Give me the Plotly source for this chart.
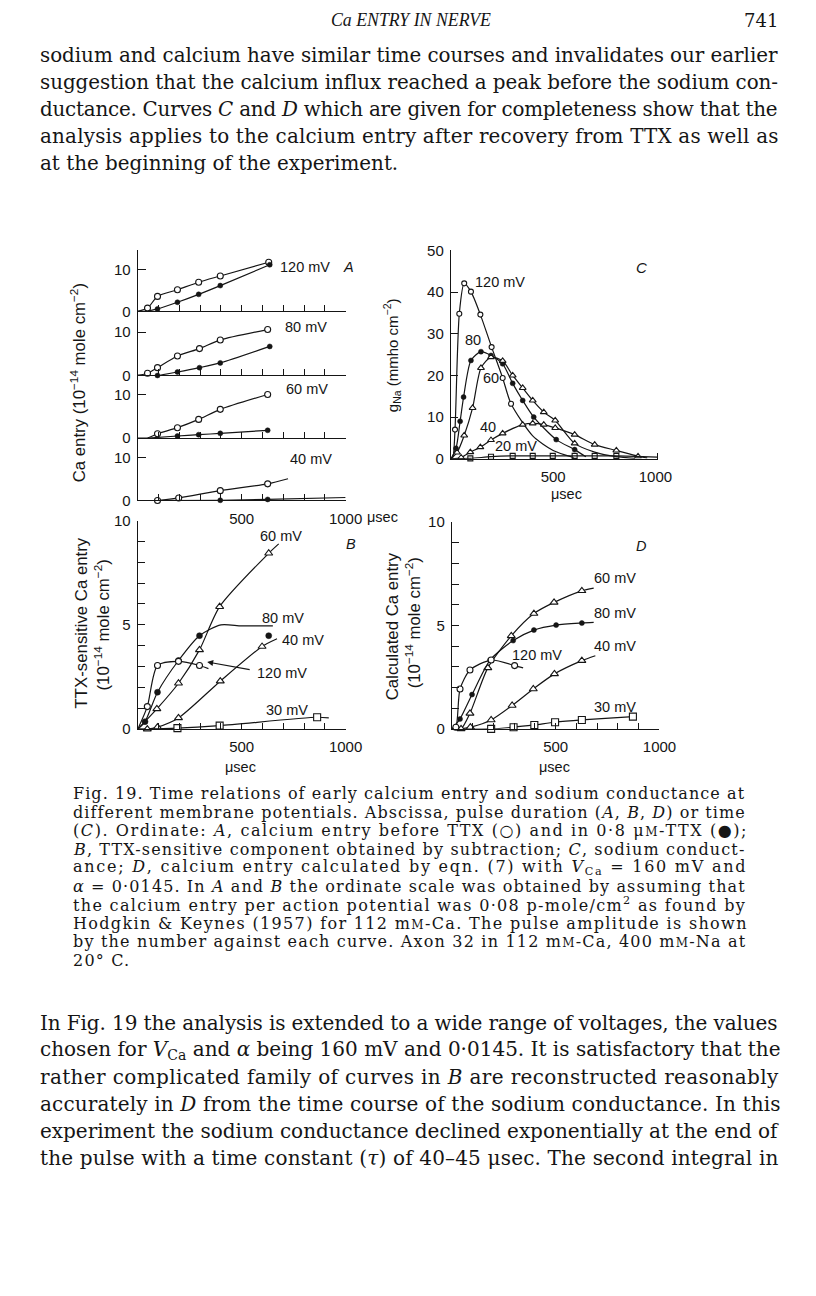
import plotly.graph_objects as go

# Page geometry: the page body has an 8 px margin; the captured picture is
# slightly rescaled, so positions are given in picture pixels and converted.
OFF = 8
FW, FH = 798, 1276
SX, OX = 0.976, 0.5
SY, OY = 0.9864, 8.75

# ---------------- data ----------------
# Panel A: Ca entry (10^-14 mole cm^-2) vs pulse duration (usec)
a120_o_x = [0, 47, 95, 191, 293, 397, 630]
a120_o_y = [0, 0.8, 3.6, 5.2, 7.0, 8.5, 11.8]
a120_o_m = [0, 1, 1, 1, 1, 1, 1]
a120_f_x = [0, 50, 95, 191, 293, 397, 635]
a120_f_y = [0, 0.1, 0.6, 2.2, 4.1, 6.2, 11.2]
a120_f_m = [0, 0, 1, 1, 1, 1, 1]

a80_o_x = [0, 47, 95, 191, 297, 397, 625]
a80_o_y = [0, 0.5, 1.8, 4.5, 6.2, 8.2, 10.6]
a80_o_m = [0, 1, 1, 1, 1, 1, 1]
a80_f_x = [0, 95, 191, 297, 397, 635]
a80_f_y = [0, 0.0, 0.8, 1.8, 2.9, 6.7]
a80_f_m = [0, 1, 1, 1, 1, 1]

a60_o_x = [0, 50, 95, 191, 293, 397, 625]
a60_o_y = [0, 0.1, 1.0, 2.4, 4.3, 6.6, 10.0]
a60_o_m = [0, 0, 1, 1, 1, 1, 1]
a60_f_x = [50, 191, 293, 397, 625]
a60_f_y = [0, 0.5, 0.8, 1.1, 1.8]
a60_f_m = [0, 1, 1, 1, 1]

a40_o_x = [0, 95, 197, 397, 625, 723]
a40_o_y = [0, 0.0, 0.6, 2.3, 3.9, 5.1]
a40_o_m = [0, 1, 1, 1, 1, 0]
a40_f_x = [100, 397, 625, 1000]
a40_f_y = [0, 0.05, 0.25, 0.7]
a40_f_m = [0, 1, 1, 0]

# Panel C: g_Na (mmho cm^-2) vs time (usec)
c120_x = [0, 10, 20, 41, 65, 98, 144, 199, 253, 294, 400, 500, 600]
c120_y = [0, 0.5, 7, 34.8, 42.1, 40.1, 34.6, 26.8, 19.4, 13.2, 5.5, 2.0, 0.3]
c120_m = [0, 0, 1, 1, 1, 1, 1, 1, 1, 1, 0, 0, 0]
c80_x = [0, 25, 45, 62, 98, 147, 196, 253, 302, 351, 405, 515, 605, 660]
c80_y = [0, 2.5, 9, 14.8, 23.6, 25.7, 24.8, 22.8, 18.1, 14, 10, 4.6, 2.2, 0.5]
c80_m = [0, 1, 1, 1, 1, 1, 1, 1, 1, 1, 1, 1, 1, 0]
c60_x = [0, 30, 65, 106, 147, 196, 253, 302, 351, 400, 454, 510, 605, 703, 809, 900]
c60_y = [0, 1.5, 5.6, 12.2, 21.8, 24.4, 23.5, 20, 17, 14, 11.2, 9.2, 3.7, 1.6, 0.5, 0.1]
c60_m = [0, 1, 1, 1, 1, 1, 1, 1, 1, 1, 1, 1, 1, 0, 0, 0]
c40_x = [0, 50, 95, 144, 196, 253, 351, 400, 454, 510, 605, 703, 809, 915, 960]
c40_y = [0, 0.3, 1.6, 2.8, 4.5, 6.1, 8.2, 8.5, 8.2, 7.4, 5.8, 3.4, 2.0, 0.6, 0.2]
c40_m = [0, 1, 1, 1, 1, 1, 1, 1, 1, 1, 1, 1, 1, 1, 0]
c20_x = [0, 95, 196, 302, 400, 498, 605, 703, 809, 1010]
c20_y = [0, 0.1, 0.5, 0.7, 0.7, 0.7, 0.7, 0.7, 0.7, 0.4]
c20_m = [0, 1, 1, 1, 1, 1, 1, 1, 1, 0]

# Panel B: TTX-sensitive Ca entry vs pulse duration
b120_x = [0, 46, 95, 196, 297, 340]
b120_y = [0, 1.08, 3.05, 3.25, 3.05, 2.9]
b120_m = [0, 1, 1, 1, 1, 0]
b80_x = [0, 35, 95, 196, 297, 400, 500, 650]
b80_y = [0, 0.36, 1.77, 3.29, 4.48, 5.0, 4.95, 4.95]
b80_m = [0, 1, 1, 1, 1, 0, 0, 0]
b80e_x = [630]
b80e_y = [4.48]
b60_x = [0, 92, 196, 297, 394, 630, 678]
b60_y = [0, 0.97, 2.2, 3.8, 5.87, 8.43, 8.88]
b60_m = [0, 1, 1, 1, 1, 1, 0]
b40_x = [0, 46, 95, 196, 397, 598, 670]
b40_y = [0, 0.0, 0.1, 0.54, 2.3, 3.96, 4.33]
b40_m = [0, 1, 1, 1, 1, 1, 0]
b30_x = [0, 191, 394, 863, 919]
b30_y = [0, 0.05, 0.17, 0.57, 0.54]
b30_m = [0, 1, 1, 1, 0]

# Panel D: calculated Ca entry vs pulse duration
d120_x = [0, 19, 39, 87, 189, 302, 343]
d120_y = [0, 0.08, 1.93, 2.85, 3.33, 3.06, 2.95]
d120_m = [0, 1, 1, 1, 1, 1, 0]
d80_x = [0, 39, 97, 184, 295, 395, 502, 626, 683]
d80_y = [0, 0.48, 1.66, 3.33, 4.27, 4.78, 5.02, 5.12, 5.15]
d80_m = [0, 1, 1, 1, 1, 1, 1, 1, 0]
d60_x = [0, 44, 87, 173, 286, 395, 492, 626, 683]
d60_y = [0, 0.0, 0.75, 2.95, 4.5, 5.58, 6.12, 6.68, 6.81]
d60_m = [0, 1, 1, 1, 1, 1, 1, 1, 0]
d40_x = [0, 44, 89, 189, 290, 392, 494, 626, 691]
d40_y = [0, 0.0, 0.08, 0.43, 1.13, 1.93, 2.66, 3.3, 3.54]
d40_m = [0, 0, 1, 1, 1, 1, 1, 1, 0]
d30_x = [0, 189, 297, 397, 497, 626, 872]
d30_y = [0, 0.0, 0.08, 0.19, 0.32, 0.43, 0.59]
d30_m = [0, 1, 1, 1, 1, 1, 1]

# tick values and labels
x_major = [500, 1000]
x_major_text = ["500", "1000"]
x_minor = [100, 200, 300, 400, 600, 700, 800, 900]
y_major_10 = [0, 5, 10]
y_minor_10 = [1, 2, 3, 4, 6, 7, 8, 9]
a_yticks = [0, 10]
c_yticks = [0, 10, 20, 30, 40, 50]

top_lines = [
    "sodium and calcium have similar time courses and invalidates our earlier",
    "suggestion that the calcium influx reached a peak before the sodium con-",
    "ductance. Curves <i>C</i> and <i>D</i> which are given for completeness show that the",
    "analysis applies to the calcium entry after recovery from TTX as well as",
    "at the beginning of the experiment.",
]
SC = "<span style='font-size:12px'>M</span>"
cap_lines = [
    "Fig. 19. Time relations of early calcium entry and sodium conductance at",
    "different membrane potentials. Abscissa, pulse duration (<i>A</i>, <i>B</i>, <i>D</i>) or time",
    "(<i>C</i>). Ordinate: <i>A</i>, calcium entry before TTX (\u25cb) and in 0\u00b78 \u03bc" + SC + "-TTX (\u25cf);",
    "<i>B</i>, TTX-sensitive component obtained by subtraction; <i>C</i>, sodium conduct-",
    "ance; <i>D</i>, calcium entry calculated by eqn. (7) with <i>V</i><sub>Ca</sub> = 160 mV and",
    "<i>\u03b1</i> = 0\u00b70145. In <i>A</i> and <i>B</i> the ordinate scale was obtained by assuming that",
    "the calcium entry per action potential was 0\u00b708 p-mole/cm<sup>2</sup> as found by",
    "Hodgkin &amp; Keynes (1957) for 112 m" + SC + "-Ca. The pulse amplitude is shown",
    "by the number against each curve. Axon 32 in 112 m" + SC + "-Ca, 400 m" + SC + "-Na at",
    "20\u00b0 C.",
]
bot_lines = [
    "In Fig. 19 the analysis is extended to a wide range of voltages, the values",
    "chosen for <i>V</i><sub>Ca</sub> and <i>\u03b1</i> being 160 mV and 0\u00b70145. It is satisfactory that the",
    "rather complicated family of curves in <i>B</i> are reconstructed reasonably",
    "accurately in <i>D</i> from the time course of the sodium conductance. In this",
    "experiment the sodium conductance declined exponentially at the end of",
    "the pulse with a time constant (<i>\u03c4</i>) of 40\u201345 \u03bcsec. The second integral in",
]
# letter spacing per line (px) used to justify the lines like the printed page
top_ls = [-0.04, -0.07, -0.23, 0.2, 0]
cap_ls = [1.07, 1.08, 1.58, 1.14, 1.74, 1.11, 1.33, 1.34, 1.19, 1.2]
bot_ls = [-0.11, 0, 0.36, 0.14, -0.03, 0.17]

# ---------------- figure ----------------
fig = go.Figure()
SANS = "Liberation Sans"
SERIF = "DejaVu Serif"
INK = "#151515"


def fx(p):
    return ((p - OX) / SX - OFF) / FW


def fy(p):
    return 1 - ((p - OY) / SY - OFF) / FH


STY = {
    "open": dict(symbol="circle", color="white", line=dict(color=INK, width=1.1)),
    "fill": dict(symbol="circle", color=INK, line=dict(color=INK, width=0.5)),
    "tri": dict(symbol="triangle-up", color="white", line=dict(color=INK, width=1.1)),
    "sq": dict(symbol="square", color="white", line=dict(color=INK, width=1.1)),
    "sqo": dict(symbol="square-open", color=INK, line=dict(color=INK, width=1.1)),
}


def series(ax, x, y, m, kind, size, lw=1.2):
    mk = dict(STY[kind])
    mk["size"] = size
    mk["opacity"] = [1 if v else 0 for v in m]
    fig.add_trace(go.Scatter(
        x=x, y=y, xaxis="x" + ax, yaxis="y" + ax, mode="lines+markers",
        line=dict(color=INK, width=lw, shape="spline", smoothing=0.7),
        marker=mk, cliponaxis=False, showlegend=False, hoverinfo="skip"))


# Panel A (axes '', 2, 3, 4)
series("", a120_o_x, a120_o_y, a120_o_m, "open", 6)
series("", a120_f_x, a120_f_y, a120_f_m, "fill", 5)
series("2", a80_o_x, a80_o_y, a80_o_m, "open", 6)
series("2", a80_f_x, a80_f_y, a80_f_m, "fill", 5)
series("3", a60_o_x, a60_o_y, a60_o_m, "open", 6)
series("3", a60_f_x, a60_f_y, a60_f_m, "fill", 5)
series("4", a40_o_x, a40_o_y, a40_o_m, "open", 6)
series("4", a40_f_x, a40_f_y, a40_f_m, "fill", 5)
# Panel C (axis 5)
series("5", c120_x, c120_y, c120_m, "open", 5)
series("5", c80_x, c80_y, c80_m, "fill", 5)
series("5", c60_x, c60_y, c60_m, "tri", 6)
series("5", c40_x, c40_y, c40_m, "tri", 6)
series("5", c20_x, c20_y, c20_m, "sqo", 5)
# Panel B (axis 6)
series("6", b30_x, b30_y, b30_m, "sq", 7)
series("6", b40_x, b40_y, b40_m, "tri", 7)
series("6", b60_x, b60_y, b60_m, "tri", 7)
series("6", b80_x, b80_y, b80_m, "fill", 6)
series("6", b120_x, b120_y, b120_m, "open", 6)
fig.add_trace(go.Scatter(x=b80e_x, y=b80e_y, xaxis="x6", yaxis="y6", mode="markers",
                         marker=dict(STY["fill"], size=6), cliponaxis=False,
                         showlegend=False, hoverinfo="skip"))
# Panel D (axis 7)
series("7", d30_x, d30_y, d30_m, "sq", 7)
series("7", d40_x, d40_y, d40_m, "tri", 7)
series("7", d60_x, d60_y, d60_m, "tri", 7)
series("7", d80_x, d80_y, d80_m, "fill", 5)
series("7", d120_x, d120_y, d120_m, "open", 6)

AX = dict(showline=True, linecolor=INK, linewidth=1.3, showgrid=False, zeroline=False,
          ticks="inside", tickcolor=INK, tickwidth=1.3, ticklen=6,
          tickfont=dict(family=SANS, size=15, color=INK), fixedrange=True)


def minor(vals, ln):
    return dict(tickmode="array", tickvals=vals, ticks="inside", ticklen=ln,
                tickcolor=INK, tickwidth=1.3, showgrid=False)


def xaxis(name, anchor, x0, x1, rng, tv, tt, labels, mvals, ticks="inside"):
    d = dict(AX)
    d.update(domain=[fx(x0), fx(x1)], range=rng, anchor=anchor, tickmode="array",
             tickvals=tv, ticktext=tt, showticklabels=labels, ticks=ticks,
             ticklabelstandoff=4, minor=minor(mvals, 6))
    fig.update_layout(**{name: d})


def yaxis(name, anchor, ytop, ybot, rng, tv, mvals, ticklen=7):
    d = dict(AX)
    d.update(domain=[fy(ybot), fy(ytop)], range=rng, anchor=anchor, tickmode="array",
             tickvals=tv, ticktext=[str(v) for v in tv], ticklen=ticklen,
             ticklabelstandoff=3, minor=minor(mvals, ticklen))
    fig.update_layout(**{name: d})


# A
A_X0, A_X1 = 137.7, 345
a_rows = [(250, 311, 14.63), (311, 375, 14.78), (375, 437.7, 14.35), (437.7, 500, 14.59)]
for i, (yt, yb, top) in enumerate(a_rows):
    sfx = "" if i == 0 else str(i + 1)
    xaxis("xaxis" + sfx, "y" + sfx, A_X0, A_X1, [0, 1000], x_major, x_major_text, i == 3,
          x_minor)
    yaxis("yaxis" + sfx, "x" + sfx, yt, yb, [0, top], a_yticks, [], ticklen=8)

# C
xaxis("xaxis5", "y5", 450, 657, [0, 1015], x_major, x_major_text, True, [1012], ticks="")
yaxis("yaxis5", "x5", 250, 458.3, [0, 50], c_yticks, [], ticklen=7)
# B
xaxis("xaxis6", "y6", 137.7, 345, [0, 1000], x_major, x_major_text, True, x_minor)
yaxis("yaxis6", "x6", 520, 728.6, [0, 10], y_major_10, y_minor_10)
# D
xaxis("xaxis7", "y7", 451, 658, [0, 1000], x_major, x_major_text, True, x_minor)
yaxis("yaxis7", "x7", 521.7, 728.3, [0, 10], y_major_10, y_minor_10)

ann = []


def txt(x, y, s, size=14.5, family=SANS, xanchor="center", angle=0, color=INK):
    ann.append(dict(x=fx(x), y=fy(y), xref="paper", yref="paper", text=s, showarrow=False,
                    xanchor=xanchor, yanchor="middle", textangle=angle,
                    font=dict(family=family, size=size, color=color)))


# panel A labels
txt(304, 267, "120 mV")
txt(348, 267, "<i>A</i>")
txt(305, 327, "80 mV")
txt(306, 389, "60 mV")
txt(310, 459, "40 mV")
txt(382, 517, "\u03bcsec")
txt(79, 382, "Ca entry (10<sup>\u221214</sup> mole cm<sup>\u22122</sup>)", size=16.8, angle=-90)

# panel C labels
txt(499, 282, "120 mV")
txt(472, 340, "80")
txt(490, 378, "60")
txt(487, 427, "40")
txt(515, 446, "20 mV")
txt(640, 267, "<i>C</i>", size=15)
txt(565, 494, "\u03bcsec")
txt(391, 355, "g<sub>Na</sub> (mmho cm<sup>\u22122</sup>)", angle=-90, size=15)

# panel B labels
txt(281, 535, "60 mV")
txt(350, 543, "<i>B</i>")
txt(283, 617, "80 mV")
txt(302, 639, "40 mV")
txt(282, 672, "120 mV")
txt(287, 709, "30 mV")
txt(240, 766, "\u03bcsec")
txt(82, 622, "TTX-sensitive Ca entry", size=16.8, angle=-90)
txt(102, 624, "(10<sup>\u221214</sup> mole cm<sup>\u22122</sup>)", size=16.8, angle=-90)

# panel D labels
txt(640, 545, "<i>D</i>")
txt(614, 577, "60 mV")
txt(614, 612, "80 mV")
txt(614, 645, "40 mV")
txt(536, 654, "120 mV")
txt(614, 706, "30 mV")
txt(553, 766, "\u03bcsec")
txt(392, 626, "Calculated Ca entry", size=16.8, angle=-90)
txt(412, 622, "(10<sup>\u221214</sup> mole cm<sup>\u22122</sup>)", size=16.8, angle=-90)

# arrow in B pointing to the 120 mV curve
ann.append(dict(x=334, y=3.22, xref="x6", yref="y6", ax=44, ay=8, axref="pixel", ayref="pixel",
                text="", showarrow=True, arrowhead=2, arrowsize=1, arrowwidth=1.2,
                arrowcolor=INK))


def spaced(s, ls):
    return "<span style='letter-spacing:%.2fpx'>%s</span>" % (ls, s)


# page text
txt(410, 20, "<i>Ca ENTRY IN NERVE</i>", size=17.8, family="Liberation Serif")
txt(778, 20, "741", size=18, family=SERIF, xanchor="right")
for i, s in enumerate(top_lines):
    txt(38, 55 + i * 27, spaced(s, top_ls[i]), size=19.9, family=SERIF, xanchor="left")
for i, s in enumerate(cap_lines):
    txt(71, 793 + i * 18.5, spaced(s, cap_ls[i]), size=16, family=SERIF, xanchor="left")
for i, s in enumerate(bot_lines):
    txt(38, 1022 + i * 27, spaced(s, bot_ls[i]), size=20, family=SERIF, xanchor="left")

fig.update_layout(annotations=ann, width=FW, height=FH, margin=dict(l=0, r=0, t=0, b=0),
                  paper_bgcolor="white", plot_bgcolor="rgba(0,0,0,0)", showlegend=False)

fig.write_html("out.html", config={"displayModeBar": False})
